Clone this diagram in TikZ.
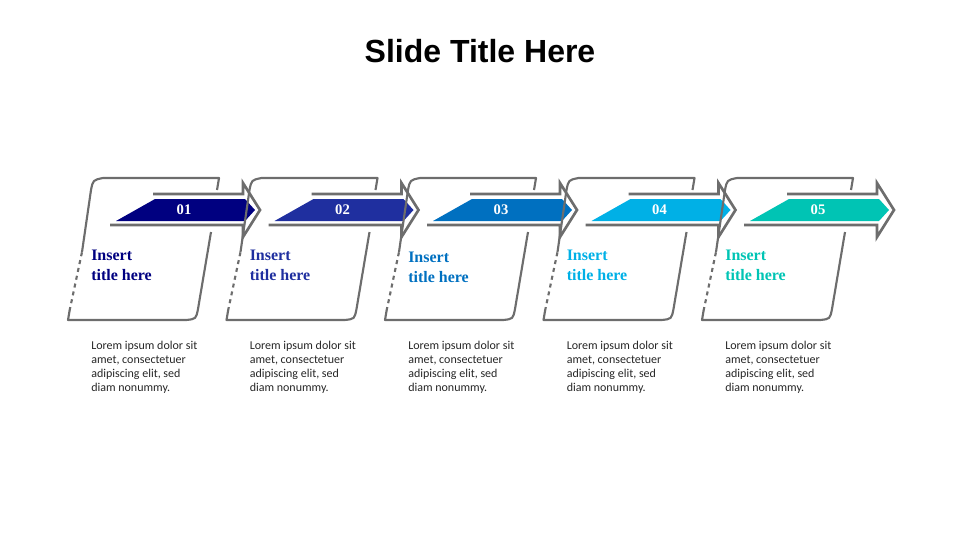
\documentclass[tikz,border=0pt]{standalone}
\usepackage{fontspec}
\setmainfont{Liberation Serif}
\setsansfont{Carlito}
\newfontfamily\titlefont{Liberation Sans}
\definecolor{gr}{HTML}{6D6D6D}
\definecolor{c1}{HTML}{000080}
\definecolor{c2}{HTML}{1F2F9F}
\definecolor{c3}{HTML}{0070C0}
\definecolor{c4}{HTML}{00B0E6}
\definecolor{c5}{HTML}{00C4B4}
\begin{document}
\begin{tikzpicture}[x=0.75pt,y=-0.75pt,
  card/.style={draw=gr,line width=1.6pt,line join=round},
  arr/.style={draw=gr,line width=2pt,fill=white,line join=miter},
  ttl/.style={anchor=north west,align=left,font=\bfseries\fontsize{12}{14.5}\selectfont,inner sep=0pt},
  body/.style={anchor=north west,align=left,font=\sffamily\fontsize{9}{10.5}\selectfont,inner sep=0pt,text=black!85}]
\useasboundingbox (0,0) rectangle (960,540);
\node[font=\titlefont\bfseries\fontsize{24}{28}\selectfont] (title) at (480,51) {Slide Title Here};
\foreach \i/\c/\n/\ty in {0/c1/01/250,1/c2/02/250,2/c3/03/252,3/c4/04/250,4/c5/05/250}{
\begin{scope}[xshift=158.5*\i*0.75pt]
  % card
  \draw[card] (82,252) -- (91,190) .. controls (93,180) .. (103,178) -- (219,178) -- (217,190);
  \draw[card] (211,232) -- (198,309) .. controls (196,319) .. (186,320) -- (68,320) -- (69.5,311);
  \draw[card,dash pattern=on 3pt off 3pt] (69.5,311) -- (82,252);
  % arrow outline
  \draw[arr] (110,225) -- (243,225) -- (243,237) -- (260,210) -- (243,183) -- (243,194) -- (153,194);
  \fill[\c] (116,221) -- (155,199) -- (245,199) -- (255,210) -- (245,221) -- cycle;
  \node[text=white,font=\bfseries\fontsize{11}{13}\selectfont] (n\i) at (184,210) {\n};
  \node[ttl,text=\c] (t\i) at (91,\ty) {Insert\\title here};
  \node[body] (b\i) at (91,341) {Lorem ipsum dolor sit\\amet, consectetuer\\adipiscing elit, sed\\diam nonummy.};
\end{scope}}
\end{tikzpicture}
\end{document}
